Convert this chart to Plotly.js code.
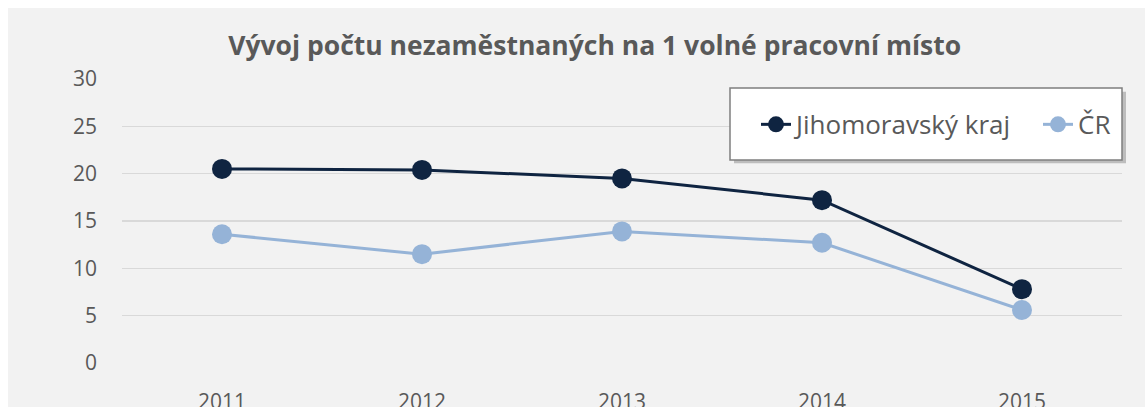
<!DOCTYPE html>
<html>
<head>
<meta charset="utf-8">
<script src="https://cdn.plot.ly/plotly-3.0.1.min.js"></script>
<style>
html,body{margin:0;padding:0;background:#ffffff;}
#chart{position:absolute;left:8px;top:8px;width:1137px;height:399px;}
</style>
</head>
<body>
<div id="chart"></div>
<script>
const years = ["2011", "2012", "2013", "2014", "2015"];
const jihomoravsky = [20.5, 20.4, 19.5, 17.2, 7.8];
const cr = [13.6, 11.5, 13.9, 12.7, 5.6];
const seriesNames = ["Jihomoravský kraj", "ČR"];
const yTicks = [0, 5, 10, 15, 20, 25, 30];

const darkColor = "#0f2441";
const lightColor = "#95b3d7";
const textColor = "#595959";
const fontFamily = "Open Sans, Noto Sans, sans-serif";

const traces = [
  {
    x: years, y: jihomoravsky, name: seriesNames[0], type: "scatter", mode: "lines+markers",
    line: {color: darkColor, width: 3},
    marker: {color: darkColor, size: 20},
    legend: "legend"
  },
  {
    x: years, y: cr, name: seriesNames[1], type: "scatter", mode: "lines+markers",
    line: {color: lightColor, width: 3},
    marker: {color: lightColor, size: 20},
    legend: "legend2"
  }
];

const legendBase = {
  orientation: "h",
  xanchor: "left",
  y: 0.84, yanchor: "middle",
  bgcolor: "rgba(0,0,0,0)",
  borderwidth: 0,
  font: {family: fontFamily, size: 26, color: textColor},
  itemwidth: 30
};

const layout = {
  width: 1137, height: 399,
  paper_bgcolor: "#f2f2f2",
  plot_bgcolor: "#f2f2f2",
  margin: {l: 114, r: 23, t: 71, b: 44},
  title: {
    text: "<b>Vývoj počtu nezaměstnaných na 1 volné pracovní místo</b>",
    font: {family: fontFamily, size: 26.5, color: textColor},
    x: 0.516, xref: "container", xanchor: "center",
    y: 0.905, yref: "container", yanchor: "middle"
  },
  xaxis: {
    type: "category",
    range: [-0.5, 4.5],
    showgrid: false, zeroline: false, showline: false,
    ticks: "",
    ticklabelstandoff: 24,
    tickfont: {family: fontFamily, size: 21, color: textColor}
  },
  yaxis: {
    range: [0, 30],
    tickvals: yTicks,
    showgrid: true, gridcolor: "#d9d9d9", gridwidth: 1.5,
    zeroline: false, showline: false,
    ticks: "",
    ticklabelstandoff: 24,
    tickfont: {family: fontFamily, size: 21, color: textColor}
  },
  showlegend: true,
  legend: Object.assign({}, legendBase, {x: 0.634}),
  legend2: Object.assign({}, legendBase, {x: 0.916}),
  shapes: [
    {type: "rect", xref: "paper", yref: "paper", x0: 0.612, x1: 1.004, y0: 0.703, y1: 0.955,
     fillcolor: "rgba(0,0,0,0.22)", line: {width: 0}, layer: "above"},
    {type: "rect", xref: "paper", yref: "paper", x0: 0.608, x1: 1.0, y0: 0.715, y1: 0.968,
     fillcolor: "#ffffff", line: {color: "#7f7f7f", width: 1.5}, layer: "above"}
  ]
};

Plotly.newPlot("chart", traces, layout, {displayModeBar: false, staticPlot: true});
</script>
</body>
</html>
